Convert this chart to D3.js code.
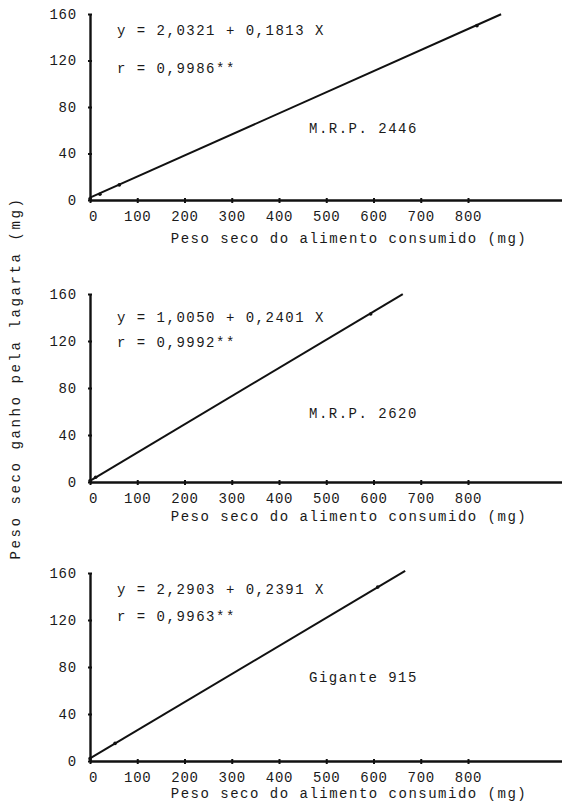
<!DOCTYPE html>
<html>
<head>
<meta charset="utf-8">
<script src="https://cdn.jsdelivr.net/npm/d3@7"></script>
<style>
  body { margin: 0; background: #fff; }
  text { font-family: "Liberation Mono", "DejaVu Sans Mono", monospace; fill: #1a1a1a; }
</style>
</head>
<body>
<svg id="chart" width="562" height="802"></svg>
<script>
// panel data
var names = ['M.R.P. 2446', 'M.R.P. 2620', 'Gigante 915']
var intercepts = [2.0321, 1.0050, 2.2903]
var slopes = [0.1813, 0.2401, 0.2391]
var eqTexts = ['y = 2,0321 + 0,1813 X', 'y = 1,0050 + 0,2401 X', 'y = 2,2903 + 0,2391 X']
var rTexts = ['r = 0,9986**', 'r = 0,9992**', 'r = 0,9963**']
var lineEnds = [870, 662, 667]
var pointsX = [[0, 21, 62, 819], [0, 12, 594], [0, 53, 609]]
var pointsY = [[1, 5, 13, 150], [1, 4, 143], [2, 15, 148]]
var yTicks = [0, 40, 80, 120, 160]
var xTicks = [0, 100, 200, 300, 400, 500, 600, 700, 800]
var xTitle = 'Peso seco do alimento consumido (mg)'
var yTitle = 'Peso seco ganho pela lagarta (mg)'

var svg = d3.select('#chart')
var tops = [14, 294, 573]
var bottoms = [200, 482, 761]
var eqY = [30, 317, 589]
var rY = [68, 342, 616]
var nameY = [128, 413, 677]
var titleY = [239, 517, 794]

var x = d3.scaleLinear().domain([0, 1000]).range([90, 562.5])

names.forEach(function(name, i){
  var y = d3.scaleLinear().domain([0, 160]).range([bottoms[i], tops[i]])
  var g = svg.append('g')

  // x axis
  var xa = g.append('g')
    .attr('transform', 'translate(0,' + bottoms[i] + ')')
    .call(d3.axisBottom(x).tickValues(xTicks).tickSize(3).tickPadding(8).tickSizeOuter(0))
  xa.select('.domain').attr('stroke', '#111').attr('stroke-width', 2.4)
  xa.selectAll('.tick line').attr('stroke', '#111').attr('stroke-width', 2).attr('y1', -2)
  xa.selectAll('.tick text')
    .style('font-size', '14px').style('letter-spacing', '0.8px')
    .attr('dx', function(d){ return d == 0 ? 3 : 0 })

  // y axis
  var ya = g.append('g')
    .attr('transform', 'translate(' + x(0) + ',0)')
    .call(d3.axisLeft(y).tickValues(yTicks).tickSize(3).tickPadding(10).tickSizeOuter(0))
  ya.select('.domain').attr('stroke', '#111').attr('stroke-width', 2.4)
  ya.selectAll('.tick line').attr('stroke', '#111').attr('stroke-width', 2).attr('x1', -2).attr('x2', 2)
  ya.selectAll('.tick text').style('font-size', '14px').style('letter-spacing', '0.8px')

  // regression line
  g.append('line')
    .attr('x1', x(0)).attr('y1', y(intercepts[i]))
    .attr('x2', x(lineEnds[i])).attr('y2', y(intercepts[i] + slopes[i] * lineEnds[i]))
    .attr('stroke', '#111').attr('stroke-width', 2)

  // observed points
  g.selectAll('.pt')
    .data(pointsX[i].map(function(v, k){ return [v, pointsY[i][k]] }))
    .enter().append('circle')
    .attr('cx', function(d){ return x(d[0]) })
    .attr('cy', function(d){ return y(d[1]) })
    .attr('r', 1.8)
    .style('fill', '#111')

  g.append('text').attr('x', 117).attr('y', eqY[i]).attr('dy', '0.35em')
    .style('font-size', '14px').style('letter-spacing', '1.5px').text(eqTexts[i])
  g.append('text').attr('x', 117).attr('y', rY[i]).attr('dy', '0.35em')
    .style('font-size', '14px').style('letter-spacing', '1.5px').text(rTexts[i])
  g.append('text').attr('x', 309).attr('y', nameY[i]).attr('dy', '0.35em')
    .style('font-size', '14px').style('letter-spacing', '1.5px').text(name)

  g.append('text').attr('x', 349).attr('y', titleY[i]).attr('dy', '0.32em')
    .attr('text-anchor', 'middle')
    .style('font-size', '14px').style('letter-spacing', '1.5px').text(xTitle)
})

svg.append('text')
  .attr('transform', 'translate(15,378) rotate(-90)')
  .attr('text-anchor', 'middle').attr('dy', '0.35em')
  .style('font-size', '14px').style('letter-spacing', '2.6px')
  .text(yTitle)
</script>
</body>
</html>
